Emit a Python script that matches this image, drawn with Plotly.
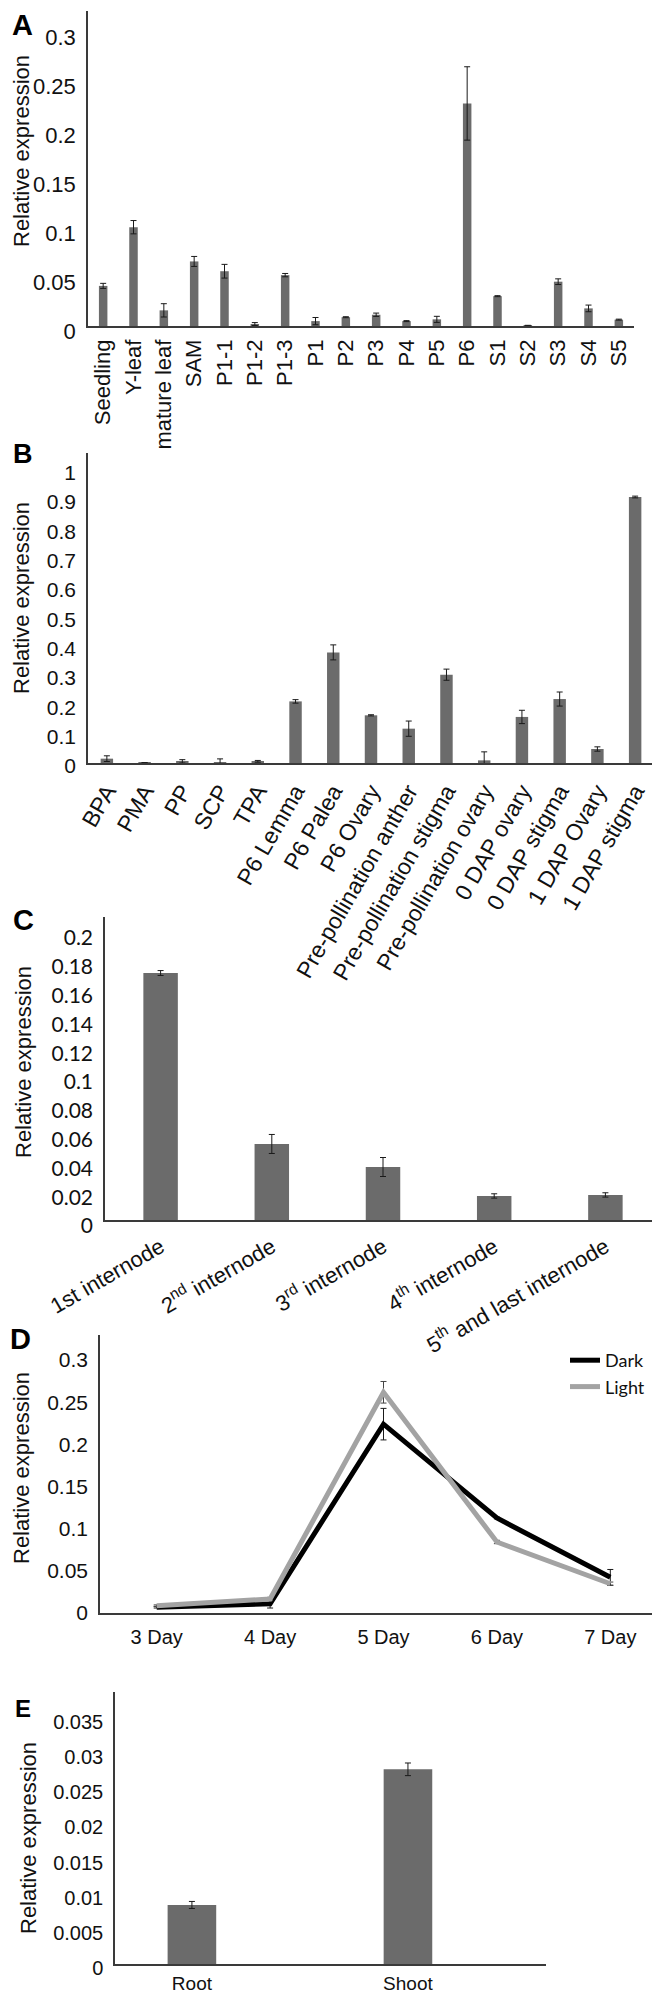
import plotly.graph_objects as go

# ---------------- data ----------------
a_cats = ["Seedling", "Y-leaf", "mature leaf", "SAM", "P1-1", "P1-2", "P1-3", "P1", "P2",
          "P3", "P4", "P5", "P6", "S1", "S2", "S3", "S4", "S5"]
a_vals = [0.041, 0.101, 0.016, 0.066, 0.056, 0.002, 0.052, 0.005, 0.009,
          0.0115, 0.005, 0.0068, 0.2275, 0.0305, 0.0004, 0.0453, 0.018, 0.0065]
a_errs = [0.0026, 0.0068, 0.0068, 0.0051, 0.007, 0.0015, 0.0017, 0.0037, 0.0005,
          0.0017, 0.0005, 0.0031, 0.0375, 0.0005, 0.0003, 0.0029, 0.0034, 0.0005]
a_yticks = [0, 0.05, 0.1, 0.15, 0.2, 0.25, 0.3]
a_yticktext = ["0", "0.05", "0.1", "0.15", "0.2", "0.25", "0.3"]

b_cats = ["BPA", "PMA", "PP", "SCP", "TPA", "P6 Lemma", "P6 Palea", "P6 Ovary",
          "Pre-pollination anther", "Pre-pollination stigma", "Pre-pollination ovary",
          "0 DAP ovary", "0 DAP stigma", "1 DAP Ovary", "1 DAP stigma"]
b_vals = [0.0148, 0.001, 0.0057, 0.002, 0.0057, 0.21, 0.377, 0.1625,
          0.117, 0.301, 0.009, 0.157, 0.218, 0.0477, 0.9066]
b_errs = [0.0097, 0.0, 0.0057, 0.012, 0.003, 0.006, 0.0256, 0.002,
          0.026, 0.019, 0.029, 0.0227, 0.024, 0.0074, 0.003]
b_yticks = [0, 0.1, 0.2, 0.3, 0.4, 0.5, 0.6, 0.7, 0.8, 0.9, 1]
b_yticktext = ["0", "0.1", "0.2", "0.3", "0.4", "0.5", "0.6", "0.7", "0.8", "0.9", "1"]

c_cats = ["1st internode", "2<sup>nd</sup> internode", "3<sup>rd</sup> internode",
          "4<sup>th</sup> internode", "5<sup>th</sup> and last internode"]
c_vals = [0.1715, 0.0528, 0.0368, 0.0167, 0.0174]
c_errs = [0.0017, 0.0066, 0.0066, 0.0015, 0.0015]
c_yticks = [0, 0.02, 0.04, 0.06, 0.08, 0.1, 0.12, 0.14, 0.16, 0.18, 0.2]
c_yticktext = ["0", "0.02", "0.04", "0.06", "0.08", "0.1", "0.12", "0.14", "0.16", "0.18", "0.2"]

d_cats = ["3 Day", "4 Day", "5 Day", "6 Day", "7 Day"]
d_dark = [0.001, 0.005, 0.218, 0.1067, 0.0364]
d_dark_err = [0.001, 0.005, 0.0187, 0.001, 0.0093]
d_light = [0.0027, 0.0107, 0.2558, 0.0783, 0.0288]
d_light_err = [0.001, 0.002, 0.0128, 0.002, 0.002]
d_yticks = [0, 0.05, 0.1, 0.15, 0.2, 0.25, 0.3]
d_yticktext = ["0", "0.05", "0.1", "0.15", "0.2", "0.25", "0.3"]

e_cats = ["Root", "Shoot"]
e_vals = [0.0084, 0.0277]
e_errs = [0.0005, 0.0009]
e_yticks = [0, 0.005, 0.01, 0.015, 0.02, 0.025, 0.03, 0.035]
e_yticktext = ["0", "0.005", "0.01", "0.015", "0.02", "0.025", "0.03", "0.035"]

# ---------------- styling ----------------
W, H = 660, 1991
BAR = "#6b6b6b"
AX = "#3a3a3a"
SANS = "Liberation Sans, Arial, sans-serif"
CAL = "Lato, Carlito, Calibri, sans-serif"


def fx(p):
    return p / W


def fy(p):
    return 1 - p / H


err_style = dict(type="data", color="#1a1a1a", thickness=1, width=3)

fig = go.Figure()
fig.add_trace(go.Bar(x=a_cats, y=a_vals, width=0.28, marker_color=BAR,
                     error_y=dict(array=a_errs, **err_style), xaxis="x", yaxis="y", showlegend=False))
fig.add_trace(go.Bar(x=b_cats, y=b_vals, width=0.33, marker_color=BAR,
                     error_y=dict(array=b_errs, **err_style), xaxis="x2", yaxis="y2", showlegend=False))
fig.add_trace(go.Bar(x=c_cats, y=c_vals, width=0.31, marker_color=BAR,
                     error_y=dict(array=c_errs, **err_style), xaxis="x3", yaxis="y3", showlegend=False))
fig.add_trace(go.Scatter(x=d_cats, y=d_dark, mode="lines", name="Dark",
                         line=dict(color="#000000", width=5),
                         error_y=dict(array=d_dark_err, **err_style), xaxis="x4", yaxis="y4"))
fig.add_trace(go.Scatter(x=d_cats, y=d_light, mode="lines", name="Light",
                         line=dict(color="#a3a3a3", width=5),
                         error_y=dict(array=d_light_err, type="data", color="#444", thickness=1, width=3),
                         xaxis="x4", yaxis="y4"))
fig.add_trace(go.Bar(x=e_cats, y=e_vals, width=0.225, marker_color=BAR,
                     error_y=dict(array=e_errs, **err_style), xaxis="x5", yaxis="y5", showlegend=False))


def xax(dom, anchor, rng, angle, size, family=SANS, standoff=4):
    return dict(domain=[fx(dom[0]), fx(dom[1])], anchor=anchor, type="category", range=rng,
                tickangle=angle, showline=True, linecolor=AX, linewidth=1.5, ticks="",
                showgrid=False, zeroline=False, automargin=False,
                tickfont=dict(family=family, size=size, color="#111"),
                ticklabelstandoff=standoff, fixedrange=True)


def yax(dom, anchor, rng, vals, text, size, shift, family=SANS, standoff=6):
    return dict(domain=[fy(dom[1]), fy(dom[0])], anchor=anchor, range=rng, tickvals=vals,
                ticktext=text, showline=True, linecolor=AX, linewidth=1.5, ticks="",
                showgrid=False, zeroline=False, automargin=False,
                tickfont=dict(family=family, size=size, color="#111"),
                ticklabelshift=shift, ticklabelstandoff=standoff, fixedrange=True)


layout = dict(
    template="none",
    width=W, height=H, margin=dict(l=0, r=0, t=0, b=0, pad=0, autoexpand=False),
    paper_bgcolor="white", plot_bgcolor="white",
    font=dict(family=SANS, color="#111"),
    bargap=0.7,
    xaxis=xax((80, 626), "y", [-0.5, 17.5], -90, 22, standoff=3),
    yaxis=yax((3, 318), "x", [0, 0.322], a_yticks, a_yticktext, 22, 5),
    xaxis2=xax((80, 646), "y2", [-0.5, 14.5], -60, 23),
    yaxis2=yax((445, 755), "x2", [0, 1.0566], b_yticks, b_yticktext, 21, 3),
    xaxis3=xax((97, 653), "y3", [-0.5, 4.5], -30, 22),
    yaxis3=yax((909, 1212), "x3", [0, 0.2104], c_yticks, c_yticktext, 21, 6, family=CAL),
    xaxis4=xax((92, 659), "y4", [-0.5, 4.5], 0, 20, standoff=5),
    yaxis4=yax((1327, 1605), "x4", [-0.0059, 0.3237], d_yticks, d_yticktext, 21, 5),
    xaxis5=xax((107, 538), "y5", [-0.356, 1.639], 0, 19, standoff=1),
    yaxis5=yax((1684, 1956), "x5", [0, 0.0387], e_yticks, e_yticktext, 20, 4),
    legend=dict(x=fx(557), y=fy(1334), xanchor="left", yanchor="top",
                font=dict(family=CAL, size=18, color="#111"), bgcolor="rgba(0,0,0,0)",
                tracegroupgap=0, itemwidth=30, borderwidth=0),
    showlegend=True,
)
fig.update_layout(**layout)

# axis titles and panel letters
titles = [(13, 143, 22), (13, 590, 22), (15, 1054, 22), (13, 1460, 22), (20, 1830, 22)]
for x, y, s in titles:
    fig.add_annotation(text="Relative expression", x=fx(x), y=fy(y), xref="paper", yref="paper",
                       xanchor="center", yanchor="middle", textangle=-90, showarrow=False,
                       font=dict(family=SANS, size=s, color="#111"))

letters = [("A", 14, 17, 29), ("B", 15, 446, 27), ("C", 15, 912, 29), ("D", 13, 1331, 29), ("E", 15, 1700, 24)]
for t, x, y, s in letters:
    fig.add_annotation(text="<b>%s</b>" % t, x=fx(x), y=fy(y), xref="paper", yref="paper",
                       xanchor="center", yanchor="middle", showarrow=False,
                       font=dict(family=SANS, size=s, color="#000"))

fig.write_html("out.html")
